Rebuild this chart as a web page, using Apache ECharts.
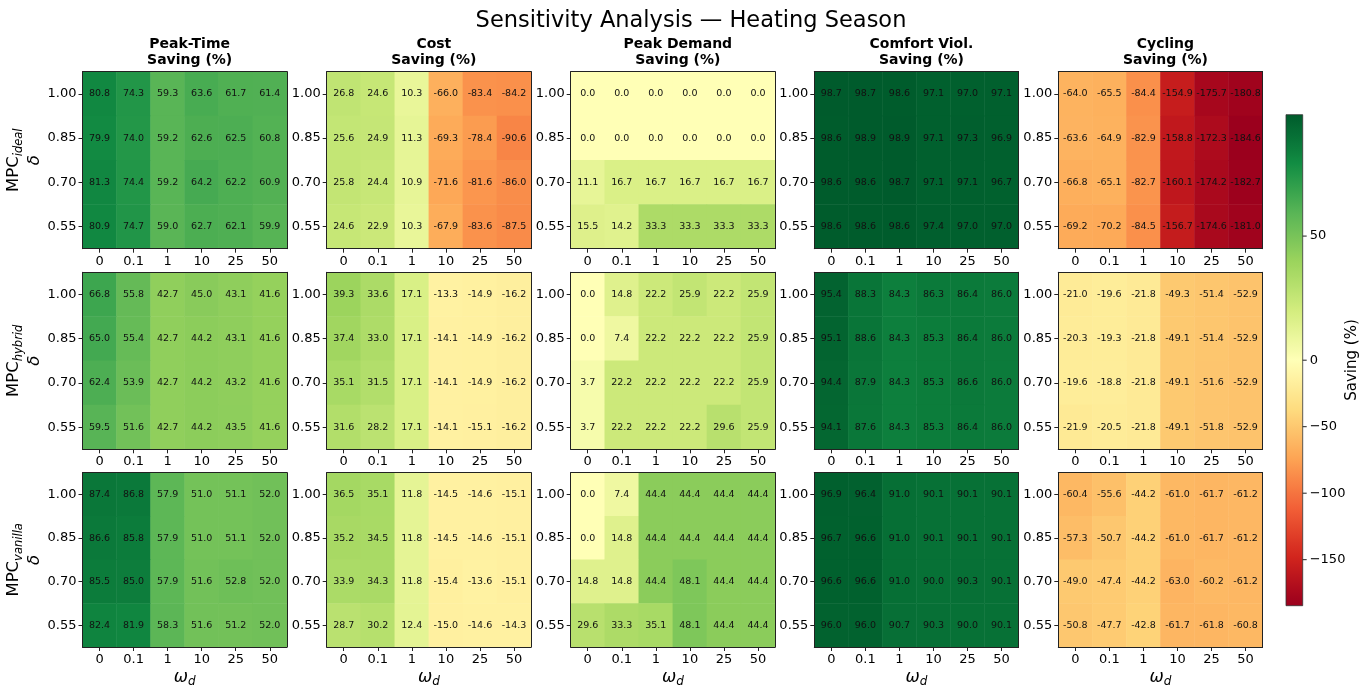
<!DOCTYPE html>
<html>
<head>
<meta charset="utf-8">
<script src="https://cdn.jsdelivr.net/npm/echarts@6/dist/echarts.min.js"></script>
<style>html,body{margin:0;padding:0;background:#fff}#chart{width:1370px;height:689px}</style>
</head>
<body>
<div id="chart"></div>
<script>
// ---- categories / tick labels ----
const omegaLabels = ['0', '0.1', '1', '10', '25', '50'];
const deltaLabels = ['1.00', '0.85', '0.70', '0.55'];
const metricTitles = ['Peak-Time\nSaving (%)', 'Cost\nSaving (%)', 'Peak Demand\nSaving (%)', 'Comfort Viol.\nSaving (%)', 'Cycling\nSaving (%)'];
const controllerNames = ['ideal', 'hybrid', 'vanilla'];
const colorbarTicks = [50, 0, -50, -100, -150];

// ---- values (rows: delta 1.00, 0.85, 0.70, 0.55; cols: omega 0..50) ----
const ideal_peakTime = [[80.8,74.3,59.3,63.6,61.7,61.4],[79.9,74.0,59.2,62.6,62.5,60.8],[81.3,74.4,59.2,64.2,62.2,60.9],[80.9,74.7,59.0,62.7,62.1,59.9]];
const ideal_cost = [[26.8,24.6,10.3,-66.0,-83.4,-84.2],[25.6,24.9,11.3,-69.3,-78.4,-90.6],[25.8,24.4,10.9,-71.6,-81.6,-86.0],[24.6,22.9,10.3,-67.9,-83.6,-87.5]];
const ideal_peakDemand = [[0.0,0.0,0.0,0.0,0.0,0.0],[0.0,0.0,0.0,0.0,0.0,0.0],[11.1,16.7,16.7,16.7,16.7,16.7],[15.5,14.2,33.3,33.3,33.3,33.3]];
const ideal_comfort = [[98.7,98.7,98.6,97.1,97.0,97.1],[98.6,98.9,98.9,97.1,97.3,96.9],[98.6,98.6,98.7,97.1,97.1,96.7],[98.6,98.6,98.6,97.4,97.0,97.0]];
const ideal_cycling = [[-64.0,-65.5,-84.4,-154.9,-175.7,-180.8],[-63.6,-64.9,-82.9,-158.8,-172.3,-184.6],[-66.8,-65.1,-82.7,-160.1,-174.2,-182.7],[-69.2,-70.2,-84.5,-156.7,-174.6,-181.0]];

const hybrid_peakTime = [[66.8,55.8,42.7,45.0,43.1,41.6],[65.0,55.4,42.7,44.2,43.1,41.6],[62.4,53.9,42.7,44.2,43.2,41.6],[59.5,51.6,42.7,44.2,43.5,41.6]];
const hybrid_cost = [[39.3,33.6,17.1,-13.3,-14.9,-16.2],[37.4,33.0,17.1,-14.1,-14.9,-16.2],[35.1,31.5,17.1,-14.1,-14.9,-16.2],[31.6,28.2,17.1,-14.1,-15.1,-16.2]];
const hybrid_peakDemand = [[0.0,14.8,22.2,25.9,22.2,25.9],[0.0,7.4,22.2,22.2,22.2,25.9],[3.7,22.2,22.2,22.2,22.2,25.9],[3.7,22.2,22.2,22.2,29.6,25.9]];
const hybrid_comfort = [[95.4,88.3,84.3,86.3,86.4,86.0],[95.1,88.6,84.3,85.3,86.4,86.0],[94.4,87.9,84.3,85.3,86.6,86.0],[94.1,87.6,84.3,85.3,86.4,86.0]];
const hybrid_cycling = [[-21.0,-19.6,-21.8,-49.3,-51.4,-52.9],[-20.3,-19.3,-21.8,-49.1,-51.4,-52.9],[-19.6,-18.8,-21.8,-49.1,-51.6,-52.9],[-21.9,-20.5,-21.8,-49.1,-51.8,-52.9]];

const vanilla_peakTime = [[87.4,86.8,57.9,51.0,51.1,52.0],[86.6,85.8,57.9,51.0,51.1,52.0],[85.5,85.0,57.9,51.6,52.8,52.0],[82.4,81.9,58.3,51.6,51.2,52.0]];
const vanilla_cost = [[36.5,35.1,11.8,-14.5,-14.6,-15.1],[35.2,34.5,11.8,-14.5,-14.6,-15.1],[33.9,34.3,11.8,-15.4,-13.6,-15.1],[28.7,30.2,12.4,-15.0,-14.6,-14.3]];
const vanilla_peakDemand = [[0.0,7.4,44.4,44.4,44.4,44.4],[0.0,14.8,44.4,44.4,44.4,44.4],[14.8,14.8,44.4,48.1,44.4,44.4],[29.6,33.3,35.1,48.1,44.4,44.4]];
const vanilla_comfort = [[96.9,96.4,91.0,90.1,90.1,90.1],[96.7,96.6,91.0,90.1,90.1,90.1],[96.6,96.6,91.0,90.0,90.3,90.1],[96.0,96.0,90.7,90.3,90.0,90.1]];
const vanilla_cycling = [[-60.4,-55.6,-44.2,-61.0,-61.7,-61.2],[-57.3,-50.7,-44.2,-61.0,-61.7,-61.2],[-49.0,-47.4,-44.2,-63.0,-60.2,-61.2],[-50.8,-47.7,-42.8,-61.7,-61.8,-60.8]];

const panels = [
  [ideal_peakTime, ideal_cost, ideal_peakDemand, ideal_comfort, ideal_cycling],
  [hybrid_peakTime, hybrid_cost, hybrid_peakDemand, hybrid_comfort, hybrid_cycling],
  [vanilla_peakTime, vanilla_cost, vanilla_peakDemand, vanilla_comfort, vanilla_cycling]
];

// ---- colour scale: RdYlGn with a two-slope norm centred at 0 ----
const allVals = panels.flat(3);
const VMIN = Math.min(...allVals), VMAX = Math.max(...allVals);
const RDYLGN = ['#a50026','#d73027','#f46d43','#fdae61','#fee08b','#ffffbf','#d9ef8b','#a6d96a','#66bd63','#1a9850','#006837'];
const GAMMA = 1.15; // rendering tone of the reference picture
function hex2rgb(h){return [parseInt(h.slice(1,3),16),parseInt(h.slice(3,5),16),parseInt(h.slice(5,7),16)];}
function cmap(t){
  t = Math.max(0, Math.min(1, t));
  const p = t * 10, i = Math.min(9, Math.floor(p)), f = p - i;
  const a = hex2rgb(RDYLGN[i]), b = hex2rgb(RDYLGN[i+1]);
  return 'rgb(' + a.map((v,k)=>{ const c = (v + (b[k]-v)*f) / 255; return Math.round(255 * Math.pow(c, GAMMA)); }).join(',') + ')';
}
function norm(v){ return v < 0 ? 0.5 * (v - VMIN) / (0 - VMIN) : 0.5 + 0.5 * v / VMAX; }
const N_STOPS = 300;
const vmColors = [];
for (let k = 0; k <= N_STOPS; k++) { vmColors.push(cmap(norm(VMIN + (VMAX - VMIN) * k / N_STOPS))); }

// ---- layout ----
const FONT = 'DejaVu Sans';
const colLeft = [82.5, 326.7, 570.7, 814.3, 1058.3];
const rowTop = [71.7, 272.3, 472.7];
const cellW = 204.3, cellH = 177;
const cb = {x: 1286, y: 114.7, w: 16.7, h: 491};

const grids = [], xAxes = [], yAxes = [], series = [], titles = [];
titles.push({text: 'Sensitivity Analysis \u2014 Heating Season', left: 686, textAlign: 'center', top: 5,
  textStyle: {fontFamily: FONT, fontSize: 22.5, fontWeight: 'normal', color: '#000'}});
metricTitles.forEach((t, c) => {
  titles.push({text: t, left: colLeft[c] + cellW / 2, textAlign: 'center', top: 31,
    textStyle: {fontFamily: FONT, fontSize: 14, fontWeight: 'bold', color: '#000', lineHeight: 16}});
});

const lineStyle = {color: '#222', width: 1};
for (let r = 0; r < 3; r++) {
  for (let c = 0; c < 5; c++) {
    const gi = grids.length;
    grids.push({left: colLeft[c], top: rowTop[r], width: cellW, height: cellH, containLabel: false});
    const xMain = {
      gridIndex: gi, type: 'category', data: omegaLabels, position: 'bottom', z: 5,
      axisLine: {show: true, lineStyle}, axisTick: {show: true, alignWithLabel: true, length: 4, lineStyle},
      axisLabel: {interval: 0, fontFamily: FONT, fontSize: 13, color: '#000', margin: 6},
      splitLine: {show: false}
    };
    if (r === 2) {
      Object.assign(xMain, {
        name: '{w|\u03c9}{s|d}', nameLocation: 'middle', nameGap: 21,
        nameTextStyle: {fontFamily: FONT, color: '#000', rich: {
          w: {fontFamily: FONT, fontSize: 17, fontStyle: 'italic', lineHeight: 20, color: '#000'},
          s: {fontFamily: FONT, fontSize: 12, fontStyle: 'italic', lineHeight: 10, verticalAlign: 'bottom', color: '#000'}
        }}
      });
    }
    xAxes.push(xMain);
    xAxes.push({gridIndex: gi, type: 'category', data: omegaLabels, position: 'top', z: 5,
      axisLine: {show: true, lineStyle}, axisTick: {show: false}, axisLabel: {show: false}, splitLine: {show: false}});
    const yMain = {
      gridIndex: gi, type: 'category', data: deltaLabels, inverse: true, position: 'left', z: 5,
      axisLine: {show: true, lineStyle}, axisTick: {show: true, alignWithLabel: true, length: 4, lineStyle},
      axisLabel: {fontFamily: FONT, fontSize: 13, color: '#000', margin: 6},
      splitLine: {show: false}
    };
    if (c === 0) {
      Object.assign(yMain, {
        name: '{m|MPC}{s|' + controllerNames[r] + '}\n{d|\u03b4}', nameLocation: 'middle', nameRotate: 90, nameGap: 33,
        nameTextStyle: {fontFamily: FONT, color: '#000', rich: {
          m: {fontFamily: FONT, fontSize: 16.5, lineHeight: 21, color: '#000'},
          s: {fontFamily: FONT, fontSize: 11.5, fontStyle: 'italic', lineHeight: 11, verticalAlign: 'bottom', color: '#000'},
          d: {fontFamily: FONT, fontSize: 16.5, fontStyle: 'italic', lineHeight: 21, color: '#000'}
        }}
      });
    }
    yAxes.push(yMain);
    yAxes.push({gridIndex: gi, type: 'category', data: deltaLabels, inverse: true, position: 'right', z: 5,
      axisLine: {show: true, lineStyle}, axisTick: {show: false}, axisLabel: {show: false}, splitLine: {show: false}});

    const vals = panels[r][c];
    const data = [];
    vals.forEach((row, i) => row.forEach((v, j) => data.push([j, i, v])));
    series.push({
      type: 'heatmap', xAxisIndex: gi * 2, yAxisIndex: gi * 2, data,
      label: {show: true, formatter: p => p.value[2].toFixed(1), fontFamily: FONT, fontSize: 9.5, color: '#111'},
      itemStyle: {borderWidth: 0},
      emphasis: {disabled: true}, progressive: 0, animation: false
    });
  }
}

// ---- colour bar (legend) ----
const graphics = [];
const stops = [];
for (let k = 0; k <= 100; k++) stops.push({offset: k / 100, color: cmap(1 - k / 100)});
graphics.push({type: 'rect', shape: {x: cb.x, y: cb.y, width: cb.w, height: cb.h},
  style: {fill: {type: 'linear', x: 0, y: 0, x2: 0, y2: 1, colorStops: stops}, stroke: '#333', lineWidth: 0.8}, z: 10});
colorbarTicks.forEach(v => {
  const y = cb.y + (1 - norm(v)) * cb.h;
  graphics.push({type: 'line', shape: {x1: cb.x + cb.w, y1: y, x2: cb.x + cb.w + 4, y2: y}, style: {stroke: '#222', lineWidth: 1}, z: 10});
  graphics.push({type: 'text', x: cb.x + cb.w + 7, y: y, style: {text: v < 0 ? '\u2212' + Math.abs(v) : String(v), fontFamily: FONT, fontSize: 13, fill: '#000', verticalAlign: 'middle', align: 'left'}, z: 10});
});
graphics.push({type: 'text', x: 1352, y: 360, rotation: Math.PI / 2,
  style: {text: 'Saving (%)', fontFamily: FONT, fontSize: 15, fill: '#000', align: 'center', verticalAlign: 'middle'}, z: 10});

const chart = echarts.init(document.getElementById('chart'), null, {renderer: 'canvas'});
chart.setOption({
  animation: false,
  backgroundColor: '#fff',
  title: titles,
  grid: grids,
  xAxis: xAxes,
  yAxis: yAxes,
  visualMap: {type: 'continuous', show: false, min: VMIN, max: VMAX, dimension: 2,
    seriesIndex: series.map((s, i) => i), inRange: {color: vmColors}},
  series,
  graphic: graphics
});
</script>
</body>
</html>
